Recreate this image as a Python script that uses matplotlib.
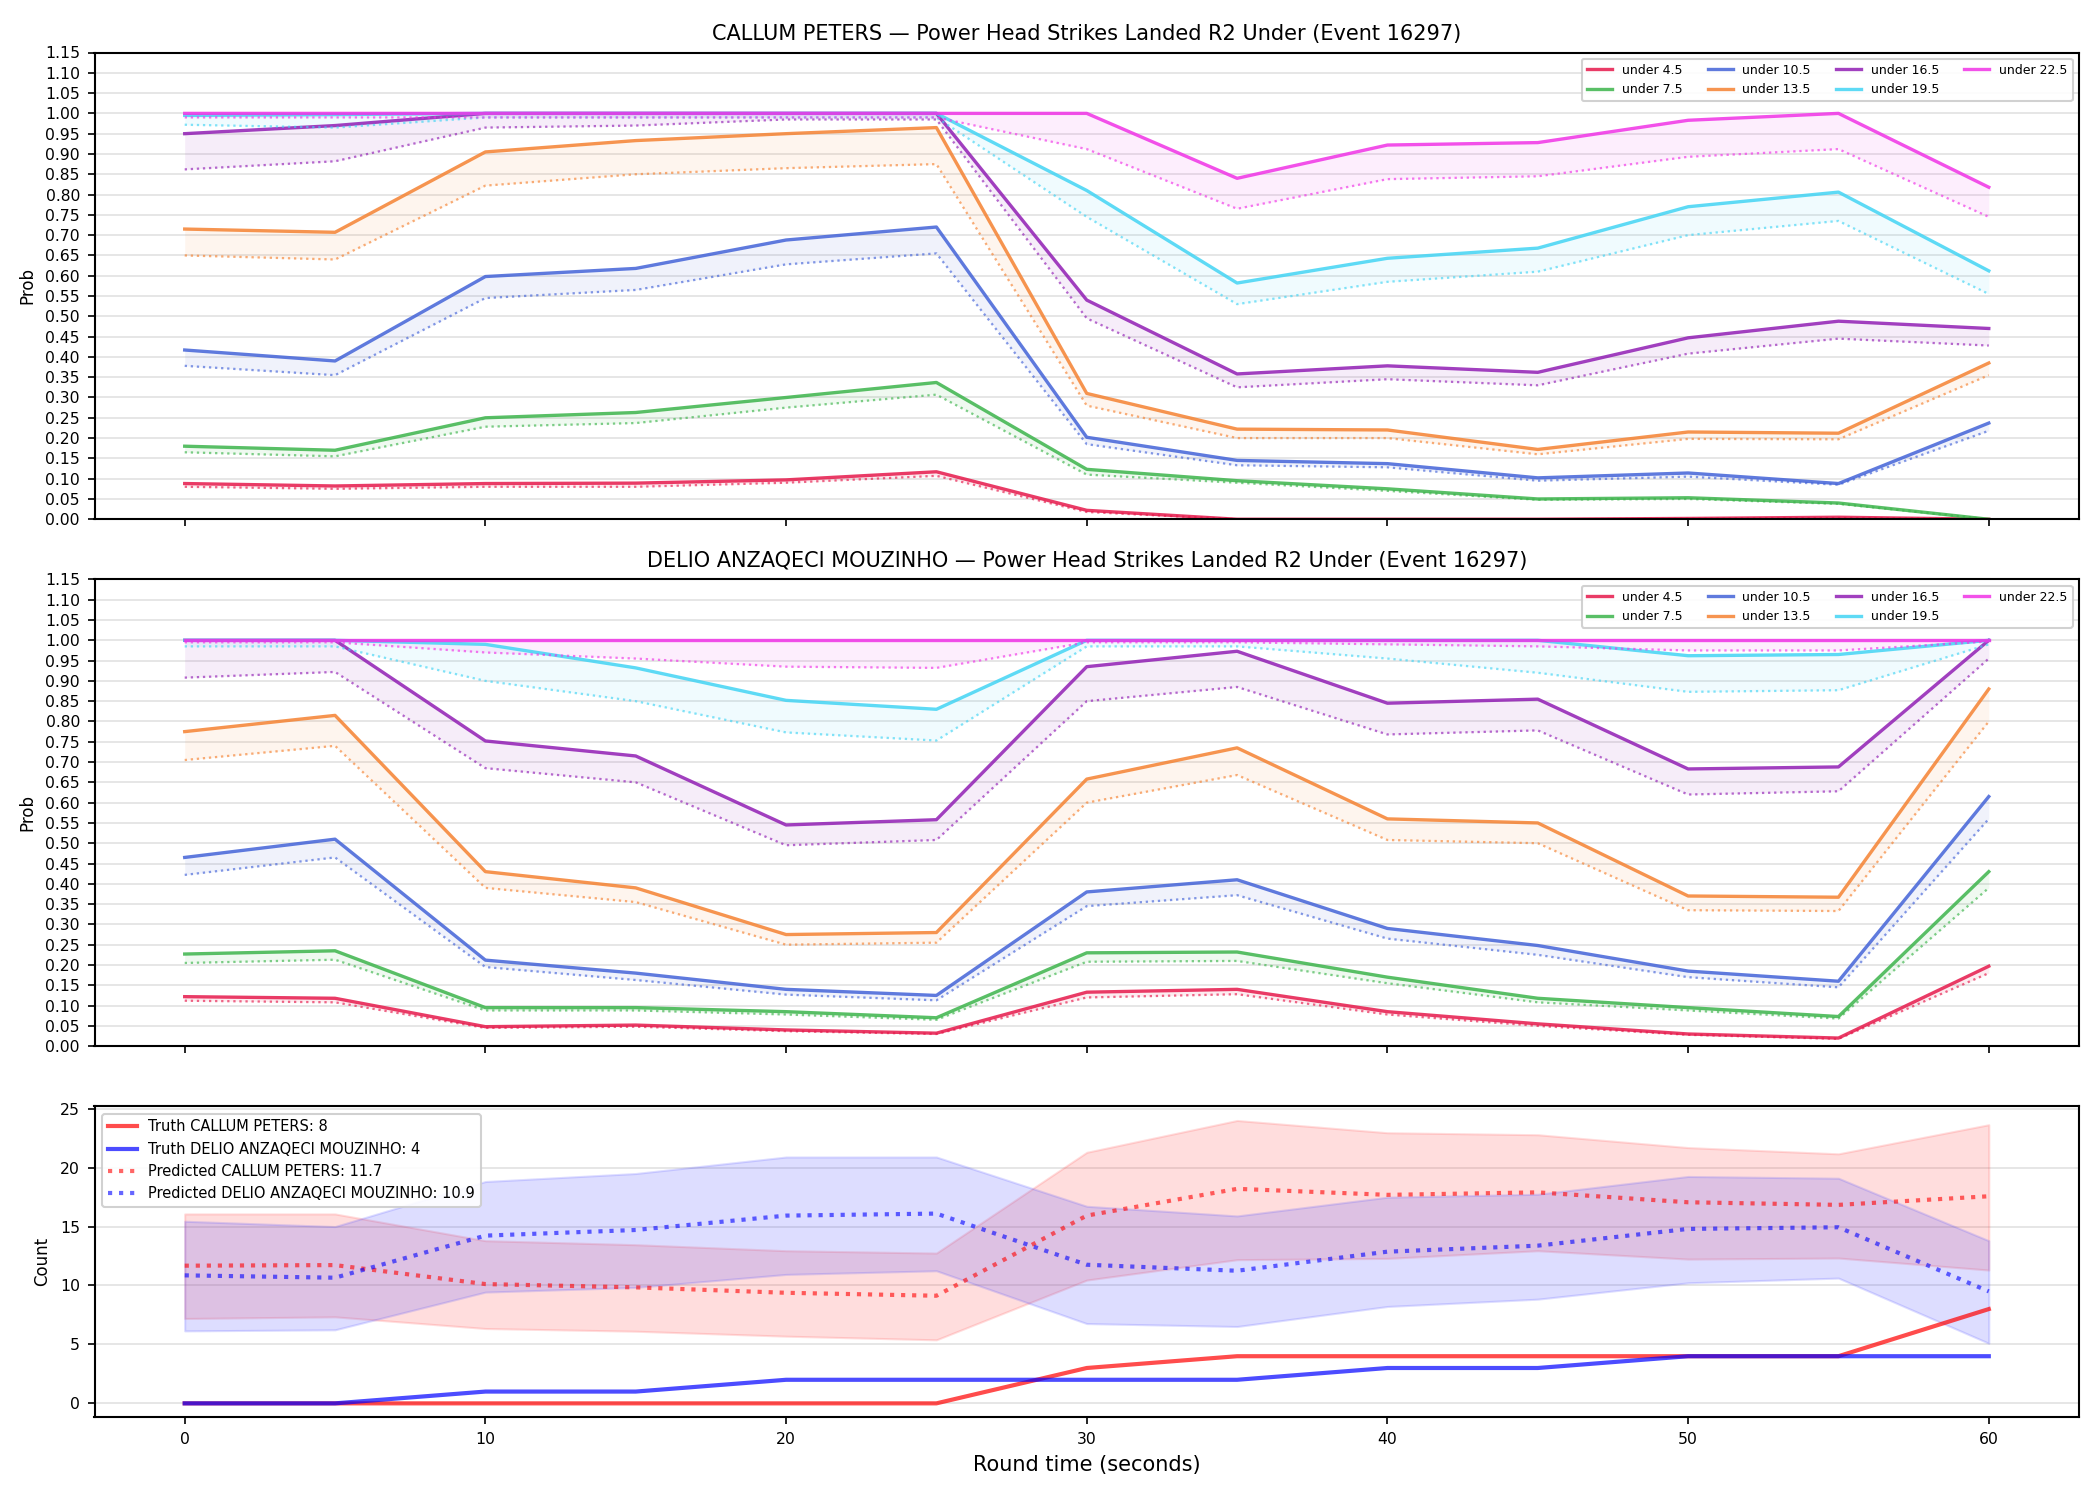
import matplotlib
matplotlib.use("Agg")
import matplotlib.pyplot as plt
import numpy as np

t = [0, 5, 10, 15, 20, 25, 30, 35, 40, 45, 50, 55, 60]
labels = ["under 4.5", "under 7.5", "under 10.5", "under 13.5", "under 16.5", "under 19.5", "under 22.5"]
colors = ["#e6194b", "#3cb44b", "#4363d8", "#f58231", "#911eb4", "#42d4f4", "#f032e6"]

# Panel 1: CALLUM PETERS (solid = market, dotted = model)
p1_u45 = [0.088, 0.082, 0.088, 0.089, 0.097, 0.117, 0.022, 0.0, 0.0, 0.0, 0.002, 0.005, 0.0]
p1_u45_d = [0.080, 0.075, 0.080, 0.080, 0.090, 0.107, 0.018, 0.0, 0.0, 0.0, 0.001, 0.003, 0.0]
p1_u75 = [0.180, 0.170, 0.250, 0.263, 0.300, 0.337, 0.123, 0.095, 0.075, 0.050, 0.053, 0.040, 0.0]
p1_u75_d = [0.165, 0.155, 0.228, 0.237, 0.275, 0.307, 0.110, 0.090, 0.070, 0.048, 0.050, 0.038, 0.0]
p1_u105 = [0.417, 0.390, 0.598, 0.618, 0.688, 0.720, 0.202, 0.145, 0.137, 0.102, 0.114, 0.088, 0.237]
p1_u105_d = [0.378, 0.355, 0.545, 0.565, 0.628, 0.655, 0.185, 0.133, 0.128, 0.095, 0.105, 0.085, 0.218]
p1_u135 = [0.715, 0.707, 0.905, 0.933, 0.950, 0.965, 0.310, 0.222, 0.220, 0.172, 0.215, 0.212, 0.385]
p1_u135_d = [0.650, 0.640, 0.822, 0.850, 0.865, 0.875, 0.280, 0.200, 0.200, 0.160, 0.198, 0.197, 0.355]
p1_u165 = [0.950, 0.970, 1.0, 1.0, 1.0, 1.0, 0.540, 0.358, 0.378, 0.362, 0.447, 0.488, 0.470]
p1_u165_d = [0.862, 0.882, 0.965, 0.970, 0.985, 0.985, 0.495, 0.325, 0.345, 0.330, 0.408, 0.445, 0.428]
p1_u195 = [0.995, 0.997, 1.0, 1.0, 1.0, 1.0, 0.810, 0.582, 0.643, 0.668, 0.770, 0.806, 0.612]
p1_u195_d = [0.972, 0.965, 0.990, 0.990, 0.990, 0.990, 0.745, 0.530, 0.585, 0.610, 0.700, 0.735, 0.555]
p1_u225 = [1.0, 1.0, 1.0, 1.0, 1.0, 1.0, 1.0, 0.840, 0.922, 0.928, 0.983, 1.0, 0.818]
p1_u225_d = [0.990, 0.990, 0.990, 0.990, 0.990, 0.990, 0.912, 0.765, 0.838, 0.845, 0.893, 0.912, 0.745]

# Panel 2: DELIO ANZAQECI MOUZINHO
p2_u45 = [0.122, 0.118, 0.048, 0.052, 0.040, 0.032, 0.133, 0.140, 0.085, 0.055, 0.030, 0.020, 0.197]
p2_u45_d = [0.112, 0.108, 0.045, 0.048, 0.037, 0.030, 0.120, 0.128, 0.078, 0.050, 0.028, 0.018, 0.180]
p2_u75 = [0.227, 0.235, 0.095, 0.095, 0.085, 0.070, 0.230, 0.232, 0.170, 0.118, 0.095, 0.073, 0.430]
p2_u75_d = [0.205, 0.213, 0.088, 0.088, 0.078, 0.065, 0.208, 0.210, 0.155, 0.108, 0.088, 0.068, 0.390]
p2_u105 = [0.465, 0.510, 0.212, 0.180, 0.140, 0.125, 0.380, 0.410, 0.290, 0.248, 0.185, 0.160, 0.615]
p2_u105_d = [0.422, 0.465, 0.195, 0.163, 0.127, 0.113, 0.345, 0.372, 0.265, 0.225, 0.170, 0.145, 0.560]
p2_u135 = [0.775, 0.815, 0.430, 0.390, 0.275, 0.280, 0.658, 0.735, 0.560, 0.550, 0.370, 0.367, 0.880]
p2_u135_d = [0.705, 0.740, 0.390, 0.355, 0.250, 0.255, 0.600, 0.668, 0.508, 0.500, 0.335, 0.333, 0.800]
p2_u165 = [1.0, 1.0, 0.752, 0.715, 0.545, 0.558, 0.935, 0.973, 0.845, 0.855, 0.683, 0.688, 1.0]
p2_u165_d = [0.908, 0.922, 0.685, 0.650, 0.495, 0.508, 0.850, 0.885, 0.768, 0.778, 0.620, 0.628, 0.955]
p2_u195 = [1.0, 1.0, 0.990, 0.932, 0.852, 0.830, 1.0, 1.0, 1.0, 1.0, 0.962, 0.965, 1.0]
p2_u195_d = [0.985, 0.985, 0.900, 0.850, 0.773, 0.753, 0.985, 0.985, 0.955, 0.920, 0.873, 0.877, 0.990]
p2_u225 = [1.0, 1.0, 1.0, 1.0, 1.0, 1.0, 1.0, 1.0, 1.0, 1.0, 1.0, 1.0, 1.0]
p2_u225_d = [0.995, 0.995, 0.970, 0.955, 0.935, 0.932, 0.995, 0.995, 0.990, 0.985, 0.975, 0.975, 0.997]

# Panel 3: counts
truth_cp = [0, 0, 0, 0, 0, 0, 3, 4, 4, 4, 4, 4, 8]
truth_dm = [0, 0, 1, 1, 2, 2, 2, 2, 3, 3, 4, 4, 4]
pred_cp = [11.68, 11.73, 10.12, 9.84, 9.38, 9.13, 15.93, 18.2, 17.69, 17.9, 17.06, 16.84, 17.57]
pred_cp_hi = [16.07, 16.07, 13.8, 13.46, 12.95, 12.75, 21.3, 24.0, 22.96, 22.79, 21.7, 21.17, 23.64]
pred_cp_lo = [7.2, 7.34, 6.35, 6.12, 5.7, 5.39, 10.46, 12.19, 12.3, 12.95, 12.24, 12.33, 11.31]
pred_dm = [10.86, 10.66, 14.23, 14.71, 15.93, 16.1, 11.76, 11.25, 12.87, 13.38, 14.8, 14.94, 9.5]
pred_dm_hi = [15.45, 15.0, 18.82, 19.5, 20.9, 20.9, 16.72, 15.9, 17.49, 17.74, 19.25, 19.1, 13.8]
pred_dm_lo = [6.15, 6.24, 9.44, 9.84, 10.94, 11.25, 6.77, 6.52, 8.22, 8.84, 10.23, 10.63, 5.1]

titles = ["CALLUM PETERS \u2014 Power Head Strikes Landed R2 Under (Event 16297)",
          "DELIO ANZAQECI MOUZINHO \u2014 Power Head Strikes Landed R2 Under (Event 16297)"]
panel1 = [(p1_u45, p1_u45_d), (p1_u75, p1_u75_d), (p1_u105, p1_u105_d), (p1_u135, p1_u135_d),
          (p1_u165, p1_u165_d), (p1_u195, p1_u195_d), (p1_u225, p1_u225_d)]
panel2 = [(p2_u45, p2_u45_d), (p2_u75, p2_u75_d), (p2_u105, p2_u105_d), (p2_u135, p2_u135_d),
          (p2_u165, p2_u165_d), (p2_u195, p2_u195_d), (p2_u225, p2_u225_d)]

plt.rcParams['font.family'] = ['DejaVu Sans']
fig, axes = plt.subplots(3, 1, figsize=(14, 10), dpi=150, sharex=True,
                         gridspec_kw={'height_ratios': [1.5, 1.5, 1.0]})
fig.subplots_adjust(left=0.045, right=0.99, top=0.965, bottom=0.055, hspace=0.145)

for ax, data, title in zip(axes[:2], [panel1, panel2], titles):
    for (solid, dotted), c, lab in zip(data, colors, labels):
        ax.plot(t, solid, color=c, lw=1.6, alpha=0.85, label=lab)
        ax.plot(t, dotted, color=c, lw=1.1, alpha=0.65, linestyle=':')
        ax.fill_between(t, solid, dotted, color=c, alpha=0.08, lw=0)
    ax.set_ylim(0, 1.15)
    ax.set_yticks(np.arange(0, 1.151, 0.05))
    ax.set_yticklabels([f"{v:.2f}" for v in np.arange(0, 1.151, 0.05)])
    ax.set_ylabel("Prob", fontsize=8)
    ax.set_title(title, fontsize=10)
    ax.legend(loc='upper right', ncol=4, fontsize=6, framealpha=0.9)

ax = axes[2]
ax.fill_between(t, pred_cp_lo, pred_cp_hi, color='#ff4444', alpha=0.18)
ax.fill_between(t, pred_dm_lo, pred_dm_hi, color='#4444ff', alpha=0.18)
ax.plot(t, truth_cp, color='#ff0000', lw=2, alpha=0.7, label=f"Truth CALLUM PETERS: {truth_cp[-1]}")
ax.plot(t, truth_dm, color='#0000ff', lw=2, alpha=0.7, label=f"Truth DELIO ANZAQECI MOUZINHO: {truth_dm[-1]}")
ax.plot(t, pred_cp, color='#ff0000', lw=2, alpha=0.6, linestyle=':', label=f"Predicted CALLUM PETERS: {pred_cp[0]:.1f}")
ax.plot(t, pred_dm, color='#0000ff', lw=2, alpha=0.6, linestyle=':', label=f"Predicted DELIO ANZAQECI MOUZINHO: {pred_dm[0]:.1f}")
ax.set_ylabel("Count", fontsize=8)
ax.set_xlabel("Round time (seconds)", fontsize=10)
ax.legend(loc='upper left', fontsize=7, framealpha=0.9)

for a in axes:
    a.grid(axis='y', color='#e2e2e2', lw=0.8)
    a.set_axisbelow(True)
    a.tick_params(labelsize=7.5)
    for s in a.spines.values():
        s.set_linewidth(1.0)

axes[2].set_xticks([0, 10, 20, 30, 40, 50, 60])
axes[2].set_xlim(-3, 63)

fig.savefig("out.png", dpi=150)
